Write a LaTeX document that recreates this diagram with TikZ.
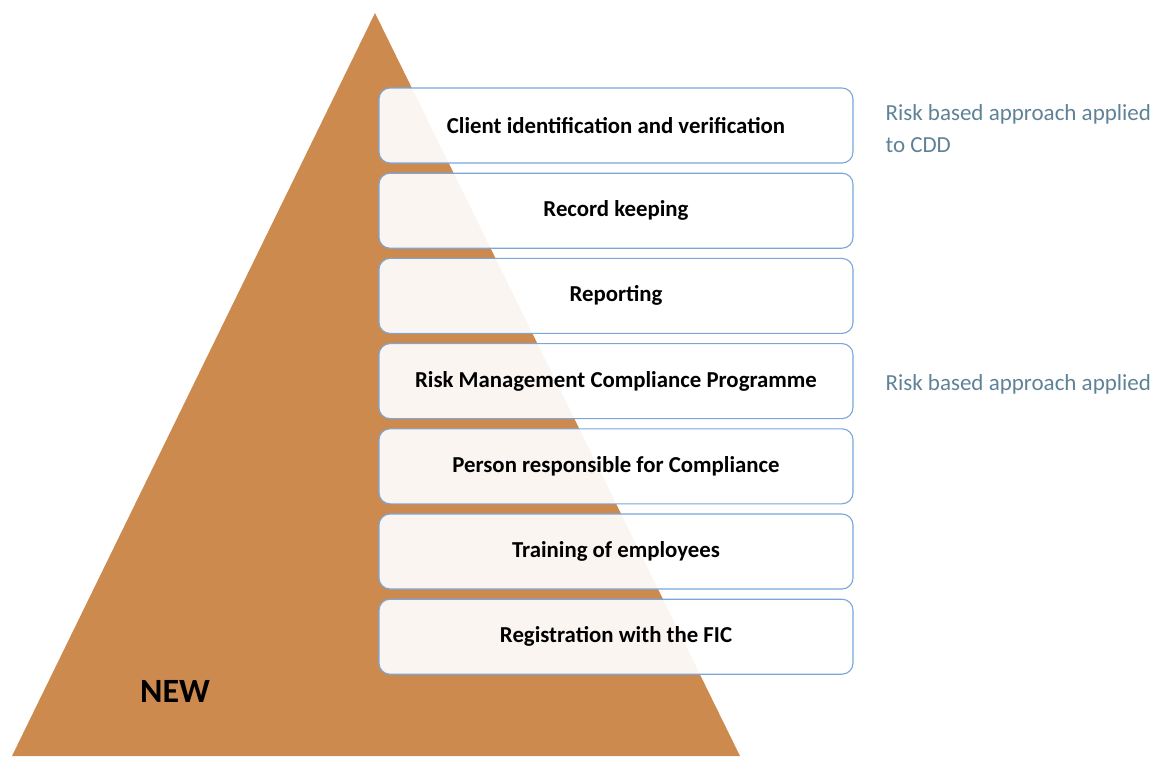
\documentclass[tikz,border=0pt]{standalone}
\usepackage{fontspec}
\setmainfont{Carlito}
\usepackage{tikz}
\usetikzlibrary{positioning}
\definecolor{pyramid}{RGB}{205,138,78}
\definecolor{boxline}{RGB}{122,166,218}
\definecolor{notegray}{RGB}{95,130,150}
\tikzset{
	stepbox/.style={draw=boxline, line width=1.1pt, fill=white, fill opacity=0.92, text opacity=1,
		rounded corners=11pt, minimum width=474pt, minimum height=75pt,
		font=\bfseries\fontsize{22.8}{26}\selectfont, text=black},
	note/.style={anchor=west, align=left, text=notegray, font=\fontsize{23}{32}\selectfont}
}
\begin{document}
\begin{tikzpicture}[x=1pt,y=-1pt]
			\useasboundingbox (0,0) rectangle (1154,756);
			
			\fill[pyramid] (375,13)--(740,756)--(12,756)--cycle;
			\node at (175,691) {\bfseries\fontsize{34}{40}\selectfont NEW};
			
			\foreach \t [count=\i] in {Client identification and verification, Record keeping, Reporting,
				Risk Management Compliance Programme, Person responsible for Compliance,
				Training of employees, Registration with the FIC}
				\node[stepbox] (b\i) at (616,{125.5+85.2*(\i-1)}) {\t};
			
			\node[note] (n1) at (882,129) {Risk based approach applied\\to CDD};
			\node[note] (n4) at (882,384) {Risk based approach applied};
		\end{tikzpicture}
\end{document}
